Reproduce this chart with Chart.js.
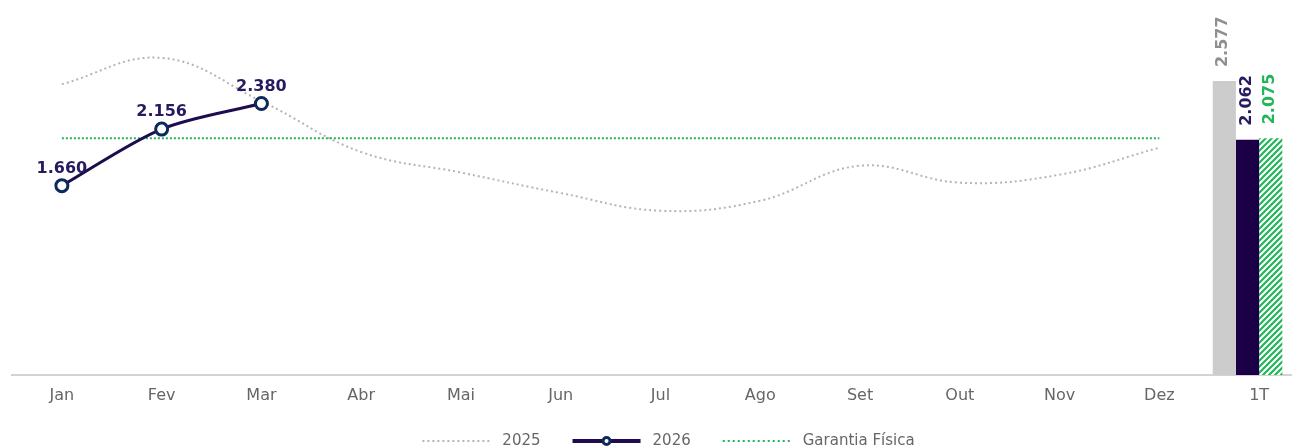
<!DOCTYPE html>
<html>
<head>
<meta charset="utf-8">
<script src="https://cdn.jsdelivr.net/npm/chart.js@4.4.1/dist/chart.umd.min.js"></script>
<style>
  html, body { margin: 0; padding: 0; background: #fff; overflow: hidden; }
  #wrap { width: 1318px; height: 448px; }
  canvas { display: block; }
</style>
</head>
<body>
<div id="wrap"><canvas id="geracaoChart" width="1318" height="448"></canvas></div>
<script>
// dados (MW médios)
const meses = ['Jan', 'Fev', 'Mar', 'Abr', 'Mai', 'Jun', 'Jul', 'Ago', 'Set', 'Out', 'Nov', 'Dez', '1T'];
const serie2025 = [2550, 2780, 2400, 1955, 1775, 1595, 1440, 1528, 1835, 1686, 1756, 1993, null];
const serie2026 = [1660, 2156, 2380, null, null, null, null, null, null, null, null, null, null];
const garantiaFisica = [2075, 2075, 2075, 2075, 2075, 2075, 2075, 2075, 2075, 2075, 2075, 2075, null];
const trim2025 = [null, null, null, null, null, null, null, null, null, null, null, null, 2577];
const trim2026 = [null, null, null, null, null, null, null, null, null, null, null, null, 2062];
const trimGarantia = [null, null, null, null, null, null, null, null, null, null, null, null, 2075];
const trimVazio = [null, null, null, null, null, null, null, null, null, null, null, null, null];

const CINZA = '#b5b5b5';
const CINZA_BARRA = '#cccccc';
const AZUL = '#1f0c4f';
const AZUL_BARRA = '#1b0048';
const AZUL_MARCADOR = '#0d2a5c';
const VERDE = '#22b65a';

Chart.defaults.font.family = '"DejaVu Sans", Verdana, sans-serif';
Chart.defaults.color = '#666';

// hachura verde da barra de garantia
function criarHachura() {
  const c = document.createElement('canvas');
  c.width = 6; c.height = 6;
  const g = c.getContext('2d');
  g.fillStyle = '#fff';
  g.fillRect(0, 0, 6, 6);
  g.strokeStyle = VERDE;
  g.lineWidth = 2.2;
  g.beginPath();
  g.moveTo(-1, 7); g.lineTo(7, -1);
  g.moveTo(-4, 4); g.lineTo(4, -4);
  g.moveTo(2, 10); g.lineTo(10, 2);
  g.stroke();
  return g.createPattern(c, 'repeat');
}

function fmt(v) {
  return String(v).replace(/\B(?=(\d{3})+(?!\d))/g, '.');
}

// rótulos de dados
const rotulosPlugin = {
  id: 'rotulos',
  afterDatasetsDraw(chart) {
    const ctx = chart.ctx;
    ctx.save();
    ctx.font = 'bold 16px "DejaVu Sans", Verdana, sans-serif';
    // linha 2026
    const meta = chart.getDatasetMeta(2);
    ctx.fillStyle = '#261a60';
    ctx.textAlign = 'center';
    ctx.textBaseline = 'bottom';
    meta.data.forEach((p, i) => {
      const v = serie2026[i];
      if (v == null) return;
      ctx.fillText(fmt(v), p.x, p.y - 9);
    });
    // barras 1T (rotacionadas)
    const barras = [[3, trim2025, '#8f8f8f'], [4, trim2026, '#261a60'], [5, trimGarantia, VERDE]];
    barras.forEach(([idx, dados, cor]) => {
      const m = chart.getDatasetMeta(idx);
      m.data.forEach((b, i) => {
        const v = dados[i];
        if (v == null) return;
        ctx.save();
        ctx.translate(b.x - 1, b.y - 14);
        ctx.rotate(-Math.PI / 2);
        ctx.fillStyle = cor;
        ctx.textAlign = 'left';
        ctx.textBaseline = 'middle';
        ctx.fillText(fmt(v), 0, 0);
        ctx.restore();
      });
    });
    ctx.restore();
  }
};

// legenda desenhada no rodapé
const legendaPlugin = {
  id: 'legendaRodape',
  afterDraw(chart) {
    const ctx = chart.ctx;
    const itens = [
      { texto: '2025', tipo: 'pontilhado', cor: CINZA },
      { texto: '2026', tipo: 'marcador', cor: AZUL },
      { texto: 'Garantia Física', tipo: 'pontilhado', cor: VERDE }
    ];
    const amostra = 68, gapTexto = 12, gapItem = 32;
    ctx.save();
    ctx.font = '15px "DejaVu Sans", Verdana, sans-serif';
    let total = 0;
    itens.forEach((it, i) => {
      it.w = ctx.measureText(it.texto).width;
      total += amostra + gapTexto + it.w + (i < itens.length - 1 ? gapItem : 0);
    });
    const y = 441;
    let x = (chart.chartArea.left + chart.chartArea.right) / 2 + 8 - total / 2;
    itens.forEach(it => {
      ctx.beginPath();
      if (it.tipo === 'pontilhado') {
        ctx.setLineDash([2, 3]);
        ctx.lineWidth = 2;
      } else {
        ctx.setLineDash([]);
        ctx.lineWidth = 4;
      }
      ctx.strokeStyle = it.cor;
      ctx.moveTo(x, y);
      ctx.lineTo(x + amostra, y);
      ctx.stroke();
      if (it.tipo === 'marcador') {
        ctx.beginPath();
        ctx.setLineDash([]);
        ctx.arc(x + amostra / 2, y, 3.5, 0, Math.PI * 2);
        ctx.fillStyle = '#fff';
        ctx.fill();
        ctx.lineWidth = 3;
        ctx.strokeStyle = AZUL_MARCADOR;
        ctx.stroke();
      }
      ctx.fillStyle = '#666';
      ctx.textAlign = 'left';
      ctx.textBaseline = 'middle';
      ctx.fillText(it.texto, x + amostra + gapTexto, y);
      x += amostra + gapTexto + it.w + gapItem;
    });
    ctx.restore();
  }
};

const ctxGeracao = document.getElementById('geracaoChart').getContext('2d');
new Chart(ctxGeracao, {
  type: 'bar',
  data: {
    labels: meses,
    datasets: [
      {
        type: 'line', label: '2025', data: serie2025,
        borderColor: CINZA, borderWidth: 2, borderDash: [2, 3],
        pointRadius: 0, tension: 0.4, spanGaps: false, order: 3
      },
      {
        type: 'line', label: 'Garantia Física', data: garantiaFisica,
        borderColor: VERDE, borderWidth: 2, borderDash: [2, 2],
        pointRadius: 0, tension: 0, order: 2
      },
      {
        type: 'line', label: '2026', data: serie2026,
        borderColor: AZUL, borderWidth: 3,
        pointRadius: 6, pointBorderWidth: 3,
        pointBackgroundColor: '#fff', pointBorderColor: AZUL_MARCADOR,
        tension: 0.3, order: 0
      },
      { label: '2025 1T', data: trim2025, backgroundColor: CINZA_BARRA, order: 5 },
      { label: '2026 1T', data: trim2026, backgroundColor: AZUL_BARRA, order: 5 },
      { label: 'Garantia 1T', data: trimGarantia, backgroundColor: criarHachura(), order: 5 },
      { label: '', data: trimVazio, backgroundColor: 'rgba(0,0,0,0)', order: 5 }
    ]
  },
  options: {
    responsive: false,
    maintainAspectRatio: false,
    animation: false,
    categoryPercentage: 0.93,
    barPercentage: 1.0,
    layout: { padding: { top: 10, left: 12, right: 0, bottom: 0 } },
    plugins: {
      legend: { display: false },
      tooltip: { enabled: false },
      title: { display: false }
    },
    scales: {
      x: {
        offset: true,
        grid: { display: false, drawTicks: false },
        border: { display: true, color: '#d3d3d3', width: 2 },
        ticks: { color: '#666', font: { size: 16 }, padding: 11, maxRotation: 0 },
        afterFit(scale) { scale.height = 73; }
      },
      y: {
        display: false,
        min: 0,
        max: 3200
      }
    }
  },
  plugins: [rotulosPlugin, legendaPlugin]
});
</script>
</body>
</html>
